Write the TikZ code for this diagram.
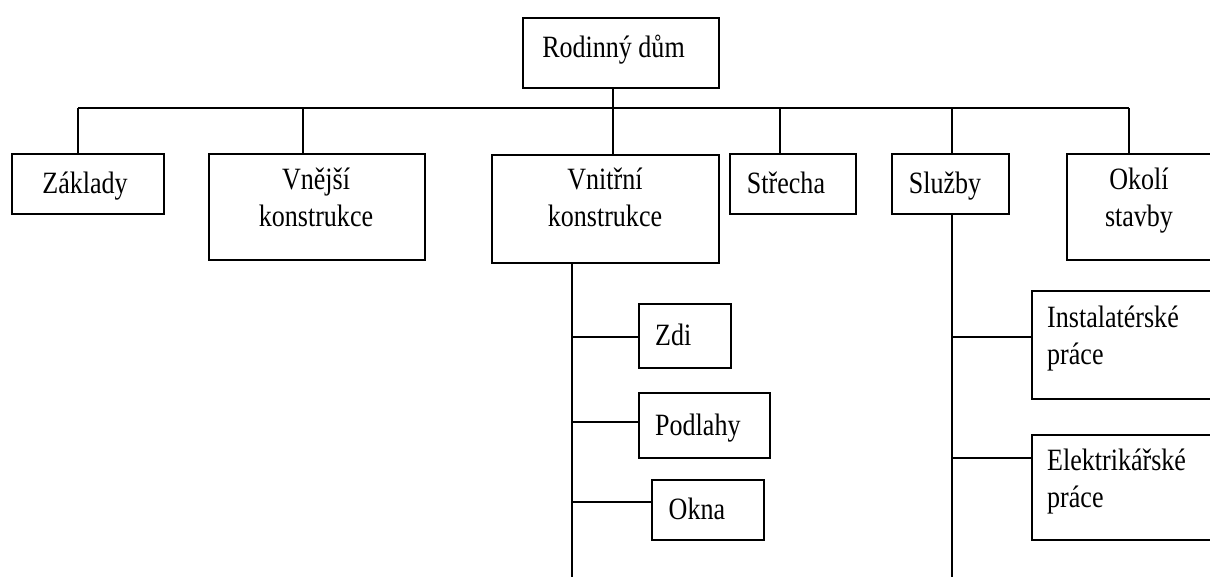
\documentclass[tikz,border=0pt]{standalone}
\usepackage{fontspec}
\setmainfont{Liberation Serif}[FakeStretch=0.84]
\begin{document}
\begin{tikzpicture}[x=1pt,y=-1pt,
  box/.style={draw, line width=1.8pt, inner sep=0pt, anchor=north west},
  lbl/.style={inner sep=0pt, anchor=north, align=center,
    font=\fontsize{31}{37}\selectfont, execute at begin node=\strut},
  lbll/.style={lbl, anchor=north west, align=left},
  wire/.style={line width=1.8pt}]
\useasboundingbox (0,0) rectangle (1210,577);
\clip (0,0) rectangle (1210,577);

% boxes
\node[box, minimum width=196pt, minimum height=70pt]  (root) at (522,17) {};
\node[box, minimum width=152pt, minimum height=60pt]  (zak)  at (11,153) {};
\node[box, minimum width=216pt, minimum height=106pt] (vne)  at (208,153) {};
\node[box, minimum width=227pt, minimum height=108pt] (vni)  at (491,154) {};
\node[box, minimum width=126pt, minimum height=60pt]  (str)  at (729,153) {};
\node[box, minimum width=117pt, minimum height=60pt]  (slu)  at (891,153) {};
\node[box, minimum width=150pt, minimum height=106pt] (oko)  at (1066,153) {};
\node[box, minimum width=92pt,  minimum height=64pt]  (zdi)  at (638,303) {};
\node[box, minimum width=131pt, minimum height=65pt]  (pod)  at (638,392) {};
\node[box, minimum width=112pt, minimum height=60pt]  (okn)  at (651,479) {};
\node[box, minimum width=190pt, minimum height=108pt] (ins)  at (1031,290) {};
\node[box, minimum width=190pt, minimum height=105pt] (ele)  at (1031,434) {};

% labels
\node[lbl]  (rootT) at (613.5,31) {Rodinný dům};
\node[lbl]  (zakT)  at (85,167)   {Základy};
\node[lbl]  (vneT)  at (316,168)  {Vnější\\konstrukce};
\node[lbl]  (vniT)  at (605,168)  {Vnitřní\\konstrukce};
\node[lbl]  (strT)  at (786,167)  {Střecha};
\node[lbl]  (sluT)  at (945,167)  {Služby};
\node[lbl]  (okoT)  at (1139,168) {Okolí\\stavby};
\node[lbll] (zdiT)  at (655,319)  {Zdi};
\node[lbll] (podT)  at (655,409)  {Podlahy};
\node[lbll] (oknT)  at (668.5,493) {Okna};
\node[lbll] (insT)  at (1047,306) {Instalatérské\\práce};
\node[lbll] (eleT)  at (1047,449) {Elektrikářské\\práce};

% bus and drops
\coordinate (dZ) at (78,108);
\coordinate (dV) at (303,108);
\coordinate (dI) at (613,108);
\coordinate (dS) at (780,108);
\coordinate (dL) at (952,108);
\coordinate (dO) at (1129,108);
\draw[wire] (dZ) -- (dO);
\draw[wire] (root.south -| dI) -- (vni.north -| dI);
\draw[wire] (dZ) -- (zak.north -| dZ);
\draw[wire] (dV) -- (vne.north -| dV);
\draw[wire] (dS) -- (str.north -| dS);
\draw[wire] (dL) -- (slu.north -| dL);
\draw[wire] (dO) -- (oko.north -| dO);

% inner construction branch
\coordinate (vs) at (572,577);
\draw[wire] (vni.south -| vs) -- (vs);
\draw[wire] ([yshift=-1pt]zdi.west) -- ([yshift=-1pt]zdi.west -| vs);
\draw[wire] ([yshift=3.5pt]pod.west) -- ([yshift=3.5pt]pod.west -| vs);
\draw[wire] ([yshift=8pt]okn.west) -- ([yshift=8pt]okn.west -| vs);

% services branch
\coordinate (ss) at (952,577);
\draw[wire] (slu.south -| ss) -- (ss);
\draw[wire] ([yshift=8pt]ins.west) -- ([yshift=8pt]ins.west -| ss);
\draw[wire] ([yshift=29.5pt]ele.west) -- ([yshift=29.5pt]ele.west -| ss);
\end{tikzpicture}
\end{document}
